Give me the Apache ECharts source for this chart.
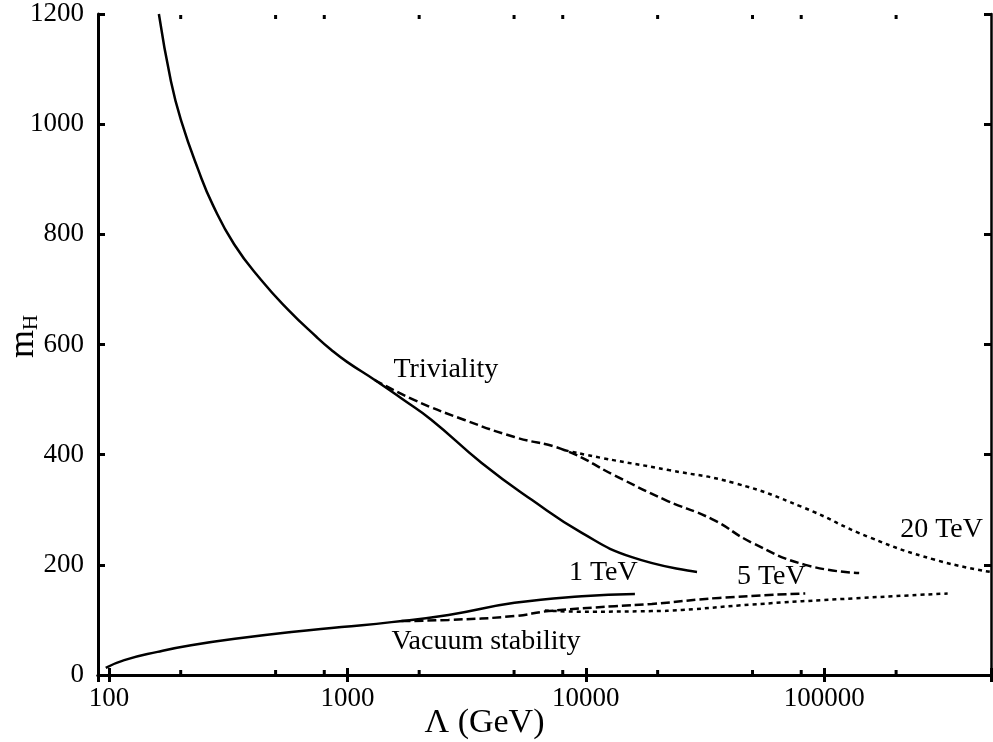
<!DOCTYPE html>
<html>
<head>
<meta charset="utf-8">
<script src="https://cdn.jsdelivr.net/npm/echarts@6/dist/echarts.min.js"></script>
<style>
html,body{margin:0;padding:0;background:#fff;}
#chart{width:993px;height:742px;}
</style>
</head>
<body>
<div id="chart"></div>
<script>
// ---- data ----
const trivLambda1   = [162, 182, 201, 237, 273, 335, 435, 565, 741, 857, 1000, 1298, 1700, 2254, 3657, 5930, 9620, 15600, 29250];
const trivMH1       = [1200, 1078, 1006, 917, 853, 782, 717, 663, 614, 590, 568, 536, 501, 463, 385, 318, 258, 214, 187];
const trivLambda5   = [1298, 1912, 3101, 5020, 8160, 13240, 21480, 33800, 49800, 83200, 140000];
const trivMH5       = [536, 499, 463, 432, 408, 362, 318, 283, 240, 200, 185];
const trivLambda20  = [8160, 11670, 22300, 42300, 80700, 154500, 292000, 500000];
const trivMH20      = [408, 394, 372, 348, 305, 250, 209, 187];

const vacLambda1    = [97, 116, 160, 221, 358, 582, 944, 1531, 2655, 5020, 9620, 16060];
const vacMH1        = [13, 27, 42, 54, 67, 78, 87, 96, 109, 131, 143, 147];
const vacLambda5    = [1686, 2655, 5020, 6980, 13240, 18900, 36200, 83200];
const vacMH5        = [98, 100, 107, 116, 125, 129, 140, 148];
const vacLambda20   = [6730, 9620, 18900, 25300, 49800, 131000, 329000];
const vacMH20       = [117, 115, 116, 118, 128, 139, 148];

const minorTickValues = [200, 500, 800, 2000, 5000, 8000, 20000, 50000, 80000, 200000];

const labelTexts  = ['Triviality', 'Vacuum stability', '1 TeV', '5 TeV', '20 TeV'];
const labelLambda = [1560, 1530, 8490, 43000, 208000];
const labelMH     = [554, 60, 185, 178, 263];

const xMin = 90, xMax = 500000, yMin = 0, yMax = 1200, yStep = 200;

// ---- chart ----
const FONT = 'Liberation Serif';
const zip = (a, b) => a.map((v, i) => [v, b[i]]);

function lineSeries(xs, ys, type) {
  return {
    type: 'line', data: zip(xs, ys), showSymbol: false, smooth: 0.5,
    silent: true, clip: true,
    lineStyle: { color: '#000', width: 2.5, type: type, cap: 'butt' }
  };
}

const chart = echarts.init(document.getElementById('chart'), null, { renderer: 'canvas' });

const isPow10 = v => Math.abs(Math.log10(v) - Math.round(Math.log10(v))) < 1e-6;

const option = {
  animation: false,
  backgroundColor: '#fff',
  grid: { left: 98, right: 2, top: 14, bottom: 67, containLabel: false, outerBoundsMode: 'none' },
  xAxis: [{
    type: 'log', min: xMin, max: xMax, logBase: 10,
    name: 'Λ (GeV)', nameLocation: 'middle', nameGap: 31, nameMoveOverlap: false,
    nameTextStyle: { fontFamily: FONT, fontSize: 34, color: '#000', padding: [0, 120, 0, 0] },
    axisLine: { show: true, lineStyle: { color: '#000', width: 3 } },
    axisTick: { show: true, inside: true, length: 7, lineStyle: { color: '#000', width: 3 } },
    axisLabel: {
      fontFamily: FONT, fontSize: 27, color: '#000', margin: 10,
      formatter: v => isPow10(v) ? String(Math.round(v)) : ''
    },
    splitLine: { show: false }
  }, {
    type: 'log', min: xMin, max: xMax, logBase: 10, position: 'top',
    axisLine: { show: true, lineStyle: { color: '#000', width: 3 } },
    axisTick: { show: true, inside: true, length: 7, lineStyle: { color: '#000', width: 3 } },
    axisLabel: { show: false }, splitLine: { show: false }
  }],
  yAxis: [{
    type: 'value', min: yMin, max: yMax, interval: yStep,
    name: '{m|m}{h|H}', nameLocation: 'middle', nameGap: 56, nameRotate: 90, nameMoveOverlap: false,
    nameTextStyle: {
      color: '#000',
      rich: {
        m: { fontFamily: FONT, fontSize: 36, color: '#000', padding: [0, 0, 0, 16] },
        h: { fontFamily: FONT, fontSize: 21, color: '#000', verticalAlign: 'bottom', padding: [12, 0, 0, 0] }
      }
    },
    axisLine: { show: true, lineStyle: { color: '#000', width: 3 } },
    axisTick: { show: true, inside: true, length: 7, lineStyle: { color: '#000', width: 3 } },
    axisLabel: { fontFamily: FONT, fontSize: 27, color: '#000', margin: 14, formatter: v => String(v) },
    splitLine: { show: false }
  }, {
    type: 'value', min: yMin, max: yMax, interval: yStep, position: 'right',
    axisLine: { show: true, lineStyle: { color: '#000', width: 2.5 } },
    axisTick: { show: true, inside: true, length: 7, lineStyle: { color: '#000', width: 3 } },
    axisLabel: { show: false }, splitLine: { show: false }
  }],
  series: [
    lineSeries(trivLambda1, trivMH1, 'solid'),
    lineSeries(trivLambda5, trivMH5, [9, 4]),
    lineSeries(trivLambda20, trivMH20, [4, 4]),
    lineSeries(vacLambda1, vacMH1, 'solid'),
    lineSeries(vacLambda5, vacMH5, [9, 4]),
    lineSeries(vacLambda20, vacMH20, [4, 4]),
    {
      type: 'scatter', silent: true,
      data: minorTickValues.map(v => [v, yMin]),
      symbol: 'rect', symbolSize: [3, 4], symbolOffset: [0, -3],
      itemStyle: { color: '#000', opacity: 1 }
    },
    {
      type: 'scatter', silent: true,
      data: minorTickValues.map(v => [v, yMax]),
      symbol: 'rect', symbolSize: [3, 4], symbolOffset: [0, 3],
      itemStyle: { color: '#000', opacity: 1 }
    },
    {
      type: 'scatter', silent: true, symbolSize: 0,
      itemStyle: { opacity: 1 },
      data: labelTexts.map((t, i) => ({ value: [labelLambda[i], labelMH[i]], name: t })),
      label: {
        show: true, position: 'right', distance: 0,
        formatter: p => p.name,
        fontFamily: FONT, fontSize: 28, color: '#000', opacity: 1
      }
    }
  ]
};
chart.setOption(option);
</script>
</body>
</html>
